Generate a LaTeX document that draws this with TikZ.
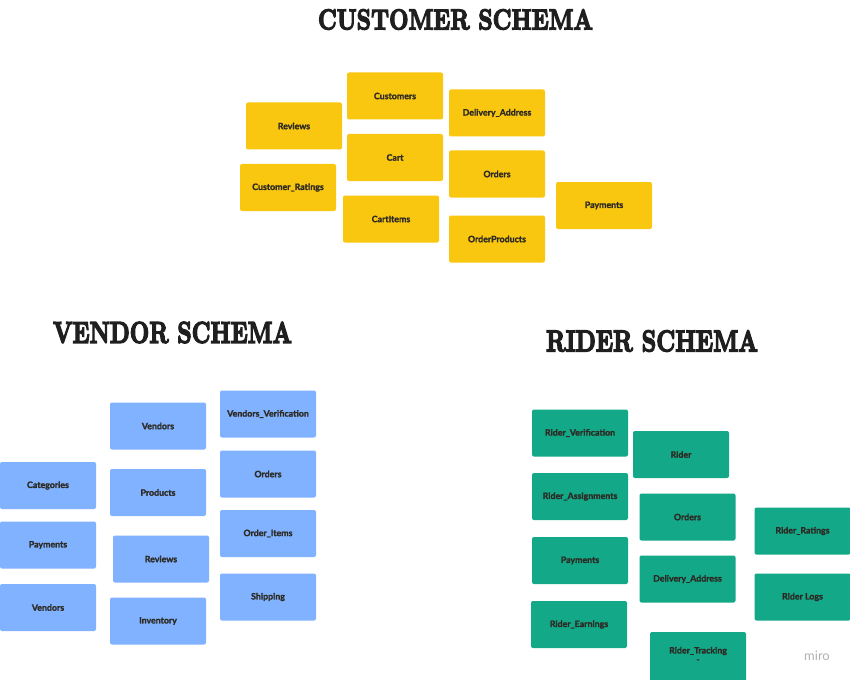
\documentclass[tikz,border=0pt]{standalone}
\usepackage{fontspec}
\usepackage{graphicx}
\newfontfamily\boxfont{Lato}[BoldFeatures={FakeBold=1.6}]
\newfontfamily\titlefont{Latin Modern Roman}[BoldFeatures={FakeBold=5}]
\definecolor{cyellow}{RGB}{250,199,16}
\definecolor{vblue}{RGB}{128,178,255}
\definecolor{rgreen}{RGB}{18,168,136}
\definecolor{boxtext}{RGB}{45,42,36}
\tikzset{
  card/.style={rounded corners=2pt, minimum width=96pt, minimum height=47pt, inner sep=0pt,
    font=\boxfont\fontsize{8.8}{10}\selectfont\bfseries, text=boxtext},
  cbox/.style={card, fill=cyellow},
  vbox/.style={card, fill=vblue},
  rbox/.style={card, fill=rgreen},
  title/.style={inner sep=0pt, text=black!88, font=\titlefont\bfseries}
}
\begin{document}
\begin{tikzpicture}[x=1pt,y=-1pt]
\useasboundingbox[fill=white] (0,0) rectangle (850,679);
% titles
\node[title] (tc) at (455.5,19.5) {\resizebox{275pt}{20pt}{CUSTOMER SCHEMA}};
\node[title] (tv) at (172.5,332.5) {\resizebox{239pt}{21pt}{VENDOR SCHEMA}};
\node[title] (tr) at (652,341) {\resizebox{212pt}{21pt}{RIDER SCHEMA}};
% customer
\node[cbox] (c1) at (395,96) {Customers};
\node[cbox] (c2) at (294,126) {Reviews};
\node[cbox] (c3) at (497,113) {Delivery\_Address};
\node[cbox] (c4) at (395,157.5) {Cart};
\node[cbox] (c5) at (288,187.5) {Customer\_Ratings};
\node[cbox] (c6) at (497,174) {Orders};
\node[cbox] (c7) at (391,219) {CartItems};
\node[cbox] (c8) at (604,205.5) {Payments};
\node[cbox] (c9) at (497,239) {OrderProducts};
% vendor
\node[vbox] (v1) at (158,426) {Vendors};
\node[vbox] (v2) at (268,414) {Vendors\_Verification};
\node[vbox] (v3) at (48,485.5) {Categories};
\node[vbox] (v4) at (158,492.5) {Products};
\node[vbox] (v5) at (268,474) {Orders};
\node[vbox] (v6) at (48,545) {Payments};
\node[vbox] (v7) at (161,559) {Reviews};
\node[vbox] (v8) at (268,533.5) {Order\_Items};
\node[vbox] (v9) at (48,607.5) {Vendors};
\node[vbox] (v10) at (158,621) {Inventory};
\node[vbox] (v11) at (268,597) {Shipping};
% rider
\node[rbox] (r1) at (580,433) {Rider\_Verification};
\node[rbox] (r2) at (681,454.5) {Rider};
\node[rbox] (r3) at (580,496.5) {Rider\_Assignments};
\node[rbox] (r4) at (687.5,517) {Orders};
\node[rbox] (r5) at (802.5,531) {Rider\_Ratings};
\node[rbox] (r6) at (580,560.5) {Payments};
\node[rbox] (r7) at (687.5,579) {Delivery\_Address};
\node[rbox] (r8) at (802.5,597) {Rider Logs};
\node[rbox] (r9) at (579,624.5) {Rider\_Earnings};
\node[rbox, minimum height=52pt] (r10) at (698,658) {};
\node[card] (r10t) at (698,651) {Rider\_Tracking};
\node[card] (r10d) at (698,661) {-};
% logo
\node[inner sep=0pt, text=black!30, font=\boxfont\fontsize{13}{14}\selectfont] (logo) at (817,656) {miro};
\end{tikzpicture}
\end{document}
